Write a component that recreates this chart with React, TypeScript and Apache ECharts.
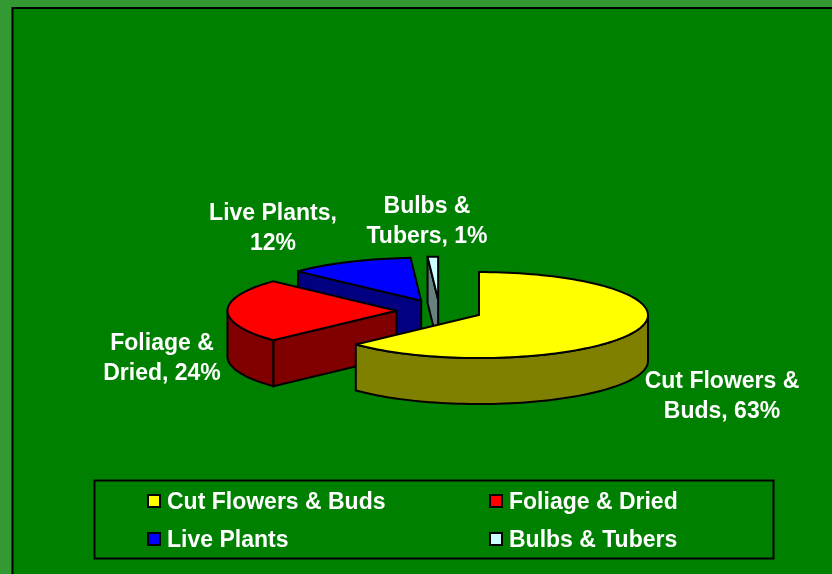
import React, { useEffect, useRef } from "react";
import * as echarts from "echarts";

const categories = ["Cut Flowers & Buds", "Foliage & Dried", "Live Plants", "Bulbs & Tubers"];
const shares = [63, 24, 12, 1];
const labelLines = [
  ["Cut Flowers &", "Buds, 63%"],
  ["Foliage &", "Dried, 24%"],
  ["Live Plants,", "12%"],
  ["Bulbs &", "Tubers, 1%"],
];
const topColors = ["#FFFF00", "#FF0000", "#0000FF", "#CCFFFF"];
const wallColors = ["#808000", "#800000", "#000080", "#668080"];

const W = 832;
const H = 574;
const CX = 439.5;
const CY = 310.7;
const RX = 169;
const RY = 43;
const DEPTH = 46;
const EXPLODE = 0.2546;
const FONT = '"Liberation Sans", Arial, sans-serif';
const labelAnchors = [[722, 395], [162, 357], [273, 227], [427, 220]];
const legendCells = [[147, 494], [489, 494], [147, 532], [489, 532]];

const total = shares.reduce((a, b) => a + b, 0);

function pt(cx: number, cy: number, deg: number, dz = 0): number[] {
  const r = (deg * Math.PI) / 180;
  return [cx + RX * Math.sin(r), cy - RY * Math.cos(r) + dz];
}

function arcPts(cx: number, cy: number, a0: number, a1: number, dz = 0): number[][] {
  const n = Math.max(2, Math.ceil(Math.abs(a1 - a0) / 2));
  const out: number[][] = [];
  for (let i = 0; i <= n; i++) out.push(pt(cx, cy, a0 + ((a1 - a0) * i) / n, dz));
  return out;
}

function renderItem(params: any, api: any) {
  const idx = params.dataIndex;
  const value = api.value(0);
  let before = 0;
  for (let i = 0; i < idx; i++) before += shares[i];
  const a0 = (before / total) * 360;
  const a1 = a0 + (value / total) * 360;
  const mid = ((a0 + a1) / 2) * (Math.PI / 180);
  const cx = CX + EXPLODE * RX * Math.sin(mid);
  const cy = CY - EXPLODE * RY * Math.cos(mid);
  const stroke = { stroke: "#000", lineWidth: 2, lineJoin: "miter" };
  const wall = { ...stroke, fill: wallColors[idx] };
  const z2 = (shares.length - idx) * 10;
  const children: any[] = [];

  // Radial wall at the slice's starting edge (only visible when facing the viewer)
  if (a0 > 180) {
    const p = pt(cx, cy, a0);
    children.push({
      type: "polygon",
      z2,
      shape: { points: [[cx, cy], p, [p[0], p[1] + DEPTH], [cx, cy + DEPTH]] },
      style: wall,
    });
  }
  // Outer wall: the part of the rim on the front half of the ellipse
  const w0 = Math.max(a0, 90);
  const w1 = Math.min(a1, 270);
  if (w1 > w0) {
    const upper = arcPts(cx, cy, w0, w1);
    const lower = arcPts(cx, cy, w1, w0, DEPTH);
    children.push({ type: "polygon", z2: z2 + 1, shape: { points: [...upper, ...lower] }, style: wall });
  }
  // Top face
  children.push({
    type: "polygon",
    z2: z2 + 2,
    shape: { points: [[cx, cy], ...arcPts(cx, cy, a0, a1)] },
    style: { ...stroke, fill: topColors[idx] },
  });
  return { type: "group", children };
}

export default function App() {
  const ref = useRef<HTMLDivElement>(null);
  useEffect(() => {
    const chart = echarts.init(ref.current!, undefined, { renderer: "svg" });
    const seriesData = shares.map((v, i) => ({ name: categories[i], value: v }));
    const graphicEls: any[] = [
      { type: "rect", z: -10, shape: { x: 0, y: 0, width: W, height: H }, style: { fill: "#339933" } },
      {
        type: "rect",
        z: -9,
        shape: { x: 12.5, y: 8, width: W + 10, height: H + 10 },
        style: { fill: "#008000", stroke: "#000", lineWidth: 2 },
      },
      {
        type: "rect",
        z: -8,
        shape: { x: 94.5, y: 480.5, width: 679, height: 78 },
        style: { fill: "#008000", stroke: "#000", lineWidth: 2 },
      },
    ];
    categories.forEach((name, i) => {
      const [x, y] = legendCells[i];
      graphicEls.push({
        type: "rect",
        z: 5,
        shape: { x: x + 1, y: y + 1, width: 12, height: 12 },
        style: { fill: topColors[i], stroke: "#000", lineWidth: 2 },
      });
      graphicEls.push({
        type: "text",
        z: 5,
        x: x + 20,
        y: y + 7,
        style: { text: name, fill: "#fff", font: `bold 23px ${FONT}`, textVerticalAlign: "middle", textAlign: "left" },
      });
    });
    labelLines.forEach((lines, i) => {
      const [x, y] = labelAnchors[i];
      lines.forEach((line, j) => {
        graphicEls.push({
          type: "text",
          z: 6,
          x,
          y: y + (j === 0 ? -15 : 15),
          style: { text: line, fill: "#fff", font: `bold 23px ${FONT}`, textAlign: "center", textVerticalAlign: "middle" },
        });
      });
    });
    chart.setOption({
      animation: false,
      backgroundColor: "transparent",
      graphic: { elements: graphicEls },
      series: [
        {
          type: "custom",
          coordinateSystem: "none",
          renderItem,
          data: [...seriesData],
          encode: { value: 0 },
          z: 2,
          silent: true,
        },
      ],
    });
    return () => chart.dispose();
  }, []);
  return <div ref={ref} style={{ position: "fixed", left: 0, top: 0, width: W, height: H }} />;
}
